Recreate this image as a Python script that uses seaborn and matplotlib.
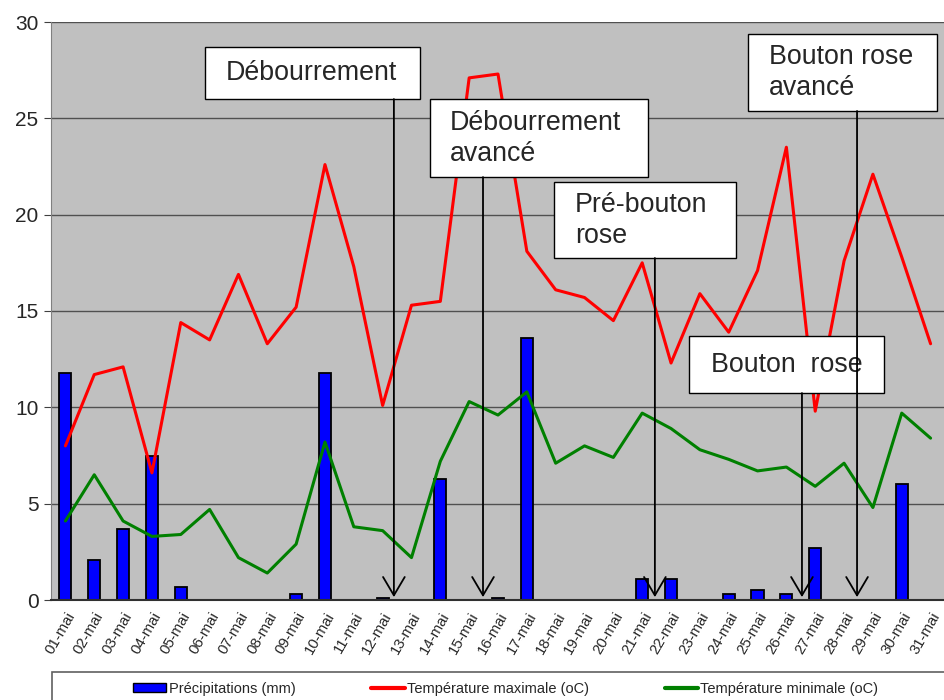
import matplotlib
matplotlib.use("Agg")
import matplotlib.pyplot as plt
from matplotlib.patches import Rectangle
from matplotlib.lines import Line2D
import pandas as pd
import seaborn as sns

# Données de mai
jours = [f"{d:02d}-mai" for d in range(1, 32)]
precipitations = [11.8, 2.1, 3.7, 7.5, 0.7, 0, 0, 0, 0.3, 11.8,
                  0, 0.1, 0, 6.3, 0, 0.1, 13.6, 0, 0, 0,
                  1.1, 1.1, 0, 0.3, 0.5, 0.3, 2.7, 0, 0, 6.0, 0]
temp_max = [8.0, 11.7, 12.1, 6.6, 14.4, 13.5, 16.9, 13.3, 15.2, 22.6,
            17.3, 10.1, 15.3, 15.5, 27.1, 27.3, 18.1, 16.1, 15.7, 14.5,
            17.5, 12.3, 15.9, 13.9, 17.1, 23.5, 9.8, 17.6, 22.1, 17.8, 13.3]
temp_min = [4.1, 6.5, 4.1, 3.3, 3.4, 4.7, 2.2, 1.4, 2.9, 8.2,
            3.8, 3.6, 2.2, 7.2, 10.3, 9.6, 10.8, 7.1, 8.0, 7.4,
            9.7, 8.9, 7.8, 7.3, 6.7, 6.9, 5.9, 7.1, 4.8, 9.7, 8.4]

# Stades phénologiques (texte + position de la flèche sur l'axe des jours)
stades = ["Débourrement", "Débourrement\navancé", "Pré-bouton\nrose",
          "Bouton  rose", "Bouton rose\navancé"]
stades_x = [11.39, 14.48, 20.44, 25.54, 27.45]

# Mise en page des cadres : (x0, x1, y0, y1, x du texte)
cadres = [(4.84, 12.29, 26.0, 28.7, 5.56),
          (12.64, 20.20, 21.95, 26.0, 13.34),
          (16.94, 23.25, 17.75, 21.69, 17.67),
          (21.62, 28.38, 10.74, 13.70, 22.39),
          (23.67, 30.22, 25.38, 29.37, 24.40)]

df = pd.DataFrame({"jour": jours, "precip": precipitations,
                   "tmax": temp_max, "tmin": temp_min})

sns.set_style("white")
plt.rcParams["font.family"] = ["Liberation Sans", "DejaVu Sans"]

fig = plt.figure(figsize=(9.45, 7.0), dpi=100)
ax = fig.add_axes([51 / 945, 100 / 700, 894 / 945, 578 / 700])
ax.set_facecolor("#c0c0c0")

sns.barplot(data=df, x="jour", y="precip", color="#0000ff", saturation=1,
            width=0.42, edgecolor="black", linewidth=1.3, ax=ax, zorder=2)
sns.lineplot(data=df, x="jour", y="tmax", color="#ff0000", lw=2.2,
             sort=False, ax=ax, zorder=3)
sns.lineplot(data=df, x="jour", y="tmin", color="#008000", lw=2.2,
             sort=False, ax=ax, zorder=3)

ax.set_xlim(-0.5, 30.5)
ax.set_ylim(0, 30)
ax.set_yticks(range(0, 31, 5))
ax.yaxis.grid(True, color="#505050", lw=1)
ax.set_axisbelow(True)
ax.set_xlabel("")
ax.set_ylabel("")

ax.set_xticks(range(31))
ax.set_xticklabels(jours, rotation=60, ha="right", va="top",
                   rotation_mode="anchor", fontsize=10.8)
ax.set_xticks([i - 0.5 for i in range(32)], minor=True)
ax.tick_params(axis="x", which="major", length=0, pad=7)
ax.tick_params(axis="x", which="minor", length=4, color="#404040", direction="out")
ax.tick_params(axis="y", length=5, color="#404040", direction="out",
               labelsize=15, pad=4, left=True)
for s in ["top", "right"]:
    ax.spines[s].set_visible(False)
ax.spines["left"].set_color("#808080")
ax.spines["bottom"].set_color("#303030")
ax.spines["bottom"].set_linewidth(1.5)

# Cadres et flèches des stades
for texte, (x0, x1, y0, y1, xt) in zip(stades, cadres):
    ax.add_patch(Rectangle((x0, y0), x1 - x0, y1 - y0, facecolor="white",
                           edgecolor="black", lw=1, zorder=5))
    ax.text(xt, (y0 + y1) / 2, texte, ha="left", va="center",
            fontsize=19.3, linespacing=1.25, zorder=6)
for xf, (x0, x1, y0, y1, xt) in zip(stades_x, cadres):
    ax.annotate("", xy=(xf, 0.15), xytext=(xf, y0),
                arrowprops=dict(arrowstyle="->,head_length=1.1,head_width=0.65",
                                color="black", lw=1.3, mutation_scale=12,
                                shrinkA=0, shrinkB=0),
                zorder=7)

# Légende en bas
fig.patches.append(Rectangle((52 / 945, -0.1), 1.0, 0.14, transform=fig.transFigure,
                             facecolor="white", edgecolor="#606060", lw=1.2))
handles = [Rectangle((0, 0), 1, 1, facecolor="#0000ff", edgecolor="black", lw=1),
           Line2D([], [], color="#ff0000", lw=3),
           Line2D([], [], color="#008000", lw=3)]
labels = ["Précipitations (mm)", "Température maximale (oC)",
          "Température minimale (oC)"]
fig.legend(handles, labels, ncol=3, loc="center", bbox_to_anchor=(0.535, 0.016),
           frameon=False, fontsize=10.5, handlelength=2.3, handleheight=0.55,
           handletextpad=0.15, columnspacing=5.2)

fig.savefig("out.png", dpi=100)
